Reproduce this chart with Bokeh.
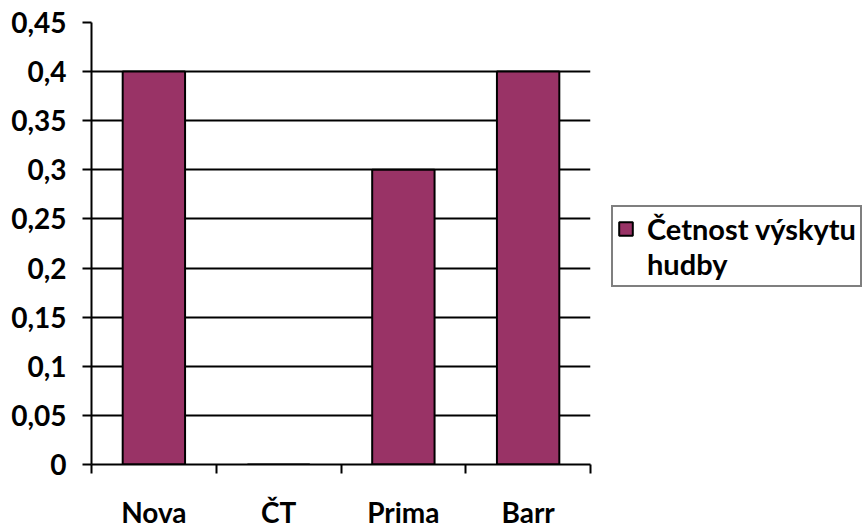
from bokeh.plotting import figure
from bokeh.models import FixedTicker, Legend, LegendItem, ColumnDataSource
from bokeh.embed import file_html
from bokeh.resources import INLINE

categories = ["Nova", "ČT", "Prima", "Barr"]
values = [0.4, 0.0, 0.3, 0.4]
series_name_lines = ["Četnost výskytu", "hudby"]
y_ticks = [0, 0.05, 0.1, 0.15, 0.2, 0.25, 0.3, 0.35, 0.4, 0.45]
y_tick_labels = ["0", "0,05", "0,1", "0,15", "0,2", "0,25", "0,3", "0,35", "0,4", "0,45"]

FONT = "Lato"
FS = "28px"

centers = [i + 0.5 for i in range(len(categories))]
bounds = list(range(len(categories) + 1))
src = ColumnDataSource(dict(x=centers, top=values, cat=categories))

p = figure(frame_width=499, frame_height=442, x_range=(0, len(categories)), y_range=(0, 0.45),
           output_backend="svg", toolbar_location=None,
           min_border_left=91, min_border_right=272, min_border_top=22, min_border_bottom=63)
p.outline_line_color = None
p.background_fill_color = "white"
p.border_fill_color = "white"

bars = p.vbar(x="x", top="top", width=0.5, source=src, fill_color="#993366",
              line_color="black", line_width=2)
# invisible twin used only for the legend's second text line
ghost = p.vbar(x="x", top="top", width=0.5, source=src, fill_alpha=0, line_alpha=0)

# y axis
p.yaxis.ticker = FixedTicker(ticks=y_ticks)
p.yaxis.major_label_overrides = dict(zip(y_ticks, y_tick_labels))
p.yaxis.major_tick_out = 9
p.yaxis.major_tick_in = 0
p.yaxis.minor_tick_line_color = None
p.yaxis.axis_line_width = 2
p.yaxis.major_tick_line_width = 2
p.yaxis.major_label_standoff = 16
p.yaxis.major_label_text_font = FONT
p.yaxis.major_label_text_font_style = "bold"
p.yaxis.major_label_text_font_size = FS
p.yaxis.major_label_text_color = "black"

# x axis
p.xaxis.ticker = FixedTicker(ticks=centers, minor_ticks=bounds)
p.xaxis.major_label_overrides = dict(zip(centers, categories))
p.xaxis.major_tick_line_color = None
p.xaxis.major_tick_out = 0
p.xaxis.major_tick_in = 0
p.xaxis.minor_tick_out = 9
p.xaxis.minor_tick_in = 0
p.xaxis.minor_tick_line_width = 2
p.xaxis.minor_tick_line_color = "black"
p.xaxis.axis_line_width = 2
p.xaxis.major_label_standoff = 21
p.xaxis.major_label_text_font = FONT
p.xaxis.major_label_text_font_style = "bold"
p.xaxis.major_label_text_font_size = FS
p.xaxis.major_label_text_color = "black"

p.xgrid.grid_line_color = None
p.ygrid.ticker = FixedTicker(ticks=y_ticks)
p.ygrid.grid_line_color = "black"
p.ygrid.grid_line_width = 2

legend = Legend(items=[LegendItem(label=series_name_lines[0], renderers=[bars]),
                       LegendItem(label=series_name_lines[1], renderers=[ghost])],
                location=(21, 177), orientation="vertical")
legend.border_line_color = "black"
legend.border_line_width = 2
legend.background_fill_color = "white"
legend.background_fill_alpha = 1
legend.label_text_font = FONT
legend.label_text_font_style = "bold"
legend.label_text_font_size = "29px"
legend.label_text_color = "black"
legend.glyph_width = 17
legend.glyph_height = 17
legend.label_standoff = 13
legend.padding = 4
legend.margin = 0
legend.spacing = 0
p.add_layout(legend, "right")

open("out.html", "w").write(file_html(p, INLINE))
